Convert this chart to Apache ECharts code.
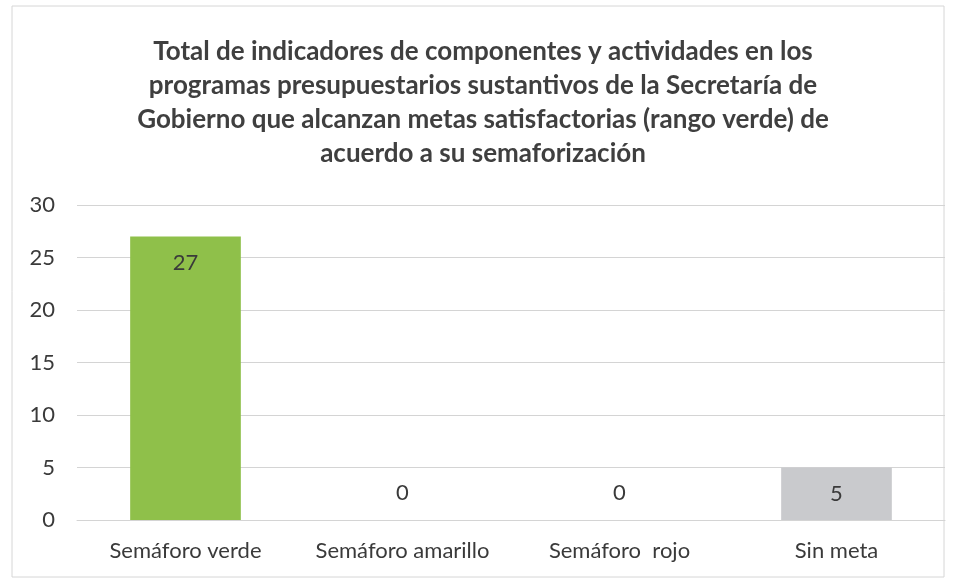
<!DOCTYPE html>
<html><head><meta charset="utf-8">
<script src="https://cdn.jsdelivr.net/npm/echarts@6/dist/echarts.min.js"></script>
<style>html,body{margin:0;padding:0;background:#fff}#c{width:953px;height:582px}</style>
</head><body><div id="c"></div>
<script>
const titleText = "Total de indicadores de componentes y actividades en los\nprogramas presupuestarios sustantivos de la Secretaría de\nGobierno que alcanzan metas satisfactorias (rango verde) de\nacuerdo a su semaforización";
const categories = ["Semáforo verde", "Semáforo amarillo", "Semáforo  rojo", "Sin meta"];
const values = [27, 0, 0, 5];
const barColors = ["#8fc04a", "#f2c200", "#d9302c", "#c9cacd"];

const chart = echarts.init(document.getElementById('c'));
chart.setOption({
  backgroundColor: '#ffffff',
  animation: false,
  title: {
    text: titleText, left: 478, top: 30, textAlign: 'center',
    textStyle: { fontFamily: 'Lato', fontWeight: 'bold', fontSize: 26, lineHeight: 34, color: '#3f3f3f' }
  },
  graphic: [{ type: 'rect', shape: { x: 12, y: 6, width: 932, height: 571 }, style: { fill: 'none', stroke: '#d6d6d6', lineWidth: 1 }, silent: true }],
  grid: { left: 77, right: 8, top: 205, bottom: 62 },
  xAxis: {
    type: 'category', data: categories,
    axisLine: { show: true, lineStyle: { color: '#d4d4d4' } },
    axisTick: { show: false },
    axisLabel: { fontFamily: 'Lato', fontSize: 22, color: '#3a3a3a', margin: 20, interval: 0, hideOverlap: false }
  },
  yAxis: {
    type: 'value', min: 0, max: 30, interval: 5,
    axisLine: { show: false }, axisTick: { show: false },
    splitLine: { lineStyle: { color: '#d4d4d4' } },
    axisLabel: { fontFamily: 'Lato', fontSize: 22, color: '#3a3a3a', margin: 22 }
  },
  series: [{
    type: 'bar', barWidth: '51%',
    data: values.map((v, i) => ({
      value: v,
      itemStyle: { color: barColors[i] },
      label: v === 0 ? { position: 'top', distance: 16 } : { position: 'insideTop', distance: 15 }
    })),
    label: { show: true, fontFamily: 'Lato', fontSize: 22, color: '#3a3a3a' }
  }]
});
</script></body></html>
